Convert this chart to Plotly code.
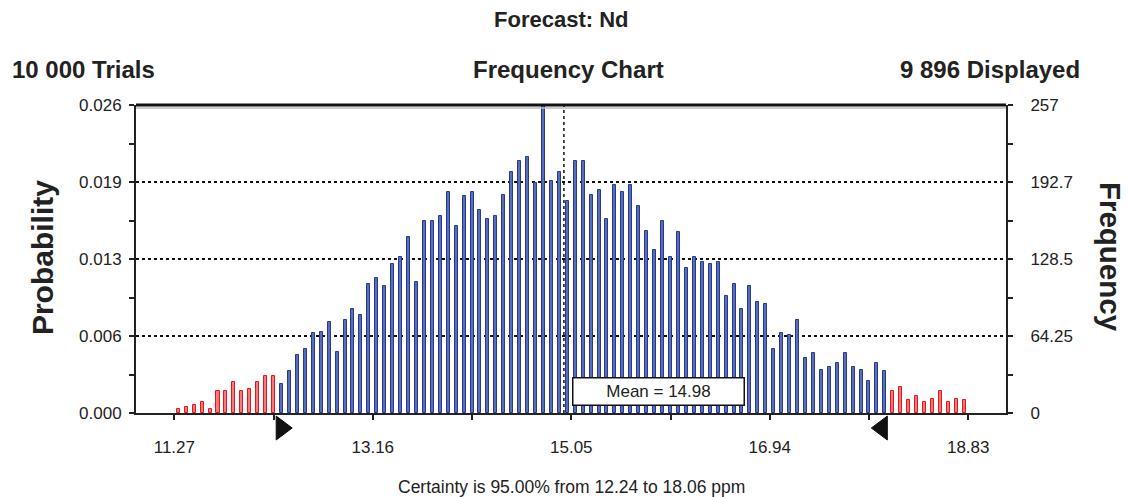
import plotly.graph_objects as go

# histogram of the forecast (counts per bin, 100 bins from 11.27 to 18.83)
bin_lo = 11.27
bin_hi = 18.83
counts = [
    3, 5, 7, 9, 3, 18, 18, 26, 18, 20, 26, 31, 31,
    24, 35, 48, 53, 67, 68, 76, 51, 78, 87, 82,
    108, 113, 106, 124, 130, 147, 109, 160, 160, 164, 184, 156, 181, 184, 169,
    162, 164, 182, 201, 210, 214, 192, 257, 194, 201, 177,
    210, 210, 182, 186, 162, 190, 184, 190, 173, 152, 136, 160, 130, 151, 121,
    130, 126, 124, 126, 98, 108, 87, 106, 93, 91, 53, 67,
    65, 78, 46, 50, 36, 38, 42, 50, 38, 36, 27, 42, 35,
    18, 22, 11, 14, 9, 12, 18, 9, 12, 11,
]
mean_val = 14.98
cert_lo = 12.24
cert_hi = 18.06
freq_max = 257

x_ticks = [11.27, 13.16, 15.05, 16.94, 18.83]
prob_ticks = ["0.000", "0.006", "0.013", "0.019", "0.026"]
freq_ticks = ["0", "64.25", "128.5", "192.7", "257"]

n = len(counts)
bw = (bin_hi - bin_lo) / n
centers = [bin_lo + (i + 0.5) * bw for i in range(n)]
inside = [cert_lo <= c <= cert_hi for c in centers]
fills = ["#5a6dbb" if ok else "#f47a7a" for ok in inside]
edges = ["#27398c" if ok else "#e3161d" for ok in inside]

ytick_vals = [freq_max * k / 4 for k in range(5)]

fig = go.Figure()
fig.add_trace(go.Bar(
    x=centers, y=counts, width=bw * 0.38,
    marker=dict(color=fills, line=dict(color=edges, width=1)),
    showlegend=False, hoverinfo="x+y",
))
# invisible trace to carry the right-hand frequency axis
fig.add_trace(go.Scatter(x=[centers[0]], y=[0], yaxis="y2", mode="markers",
                         marker=dict(opacity=0), showlegend=False, hoverinfo="skip"))

font = "Liberation Sans, Arial, sans-serif"
fig.update_layout(
    width=1128, height=497,
    margin=dict(l=136, r=122, t=105, b=84),
    plot_bgcolor="white", paper_bgcolor="white",
    font=dict(family=font, color="#222222", size=17),
    bargap=0,
    xaxis=dict(
        range=[10.905, 19.19], tickvals=x_ticks, ticktext=[f"{v:.2f}" for v in x_ticks],
        ticks="outside", ticklen=5, tickwidth=2, tickcolor="#222",
        showline=True, linecolor="#222", linewidth=2, showgrid=False, zeroline=False,
        ticklabelstandoff=13,
        minor=dict(tick0=x_ticks[0], dtick=(x_ticks[1] - x_ticks[0]) / 2,
                   ticks="outside", ticklen=5, tickwidth=2, tickcolor="#222", showgrid=False),
    ),
    yaxis=dict(
        range=[0, freq_max], tickvals=ytick_vals, ticktext=prob_ticks,
        ticks="outside", ticklen=5, tickwidth=2, tickcolor="#222",
        showline=True, linecolor="#222", linewidth=2,
        showgrid=True, gridcolor="#111", griddash="dot", gridwidth=1.5, zeroline=False,
        ticklabelstandoff=4,
        minor=dict(tick0=0, dtick=freq_max / 8, ticks="outside", ticklen=5,
                   tickwidth=2, tickcolor="#222", showgrid=False),
    ),
    yaxis2=dict(
        range=[0, freq_max], overlaying="y", side="right",
        tickvals=ytick_vals, ticktext=freq_ticks,
        ticks="outside", ticklen=5, tickwidth=2, tickcolor="#222",
        showline=True, linecolor="#222", linewidth=2, showgrid=False, zeroline=False,
        ticklabelstandoff=14,
        minor=dict(tick0=0, dtick=freq_max / 8, ticks="outside", ticklen=5,
                   tickwidth=2, tickcolor="#222", showgrid=False),
    ),
)

# top frame line with its grey shadow underneath
fig.add_shape(type="line", xref="paper", yref="paper", x0=0, x1=1, y0=-3, y1=-3,
              ysizemode="pixel", yanchor=1,
              line=dict(color="#bbbbbb", width=1.5))
fig.add_shape(type="line", xref="paper", yref="paper", x0=0, x1=1, y0=1, y1=1,
              line=dict(color="#111", width=3))
# mean line
fig.add_shape(type="line", xref="x", yref="paper", x0=mean_val, x1=mean_val, y0=0, y1=1,
              line=dict(color="#111", width=1.5, dash="dot"))
# certainty grabbers, hung just below the x axis
fig.add_shape(type="path", xref="x", yref="paper", xsizemode="pixel", ysizemode="pixel",
              xanchor=cert_lo, yanchor=0, path="M 0 -3 L 0 -27 L 16 -15 Z",
              fillcolor="#111", line=dict(color="#111", width=1))
fig.add_shape(type="path", xref="x", yref="paper", xsizemode="pixel", ysizemode="pixel",
              xanchor=cert_hi, yanchor=0, path="M 0 -3 L 0 -27 L -16 -15 Z",
              fillcolor="#111", line=dict(color="#111", width=1))

# mean label box
fig.add_annotation(x=mean_val, y=0, xref="x", yref="y", xanchor="left", yanchor="bottom",
                   xshift=8, yshift=7, text=f"Mean = {mean_val:.2f}", showarrow=False,
                   width=168, height=24, bgcolor="white", bordercolor="#111", borderwidth=1.5,
                   font=dict(size=17, color="#222"))

fig.add_annotation(x=0.4885, y=1.276, xref="paper", yref="paper", yanchor="middle",
                   text="<b>Forecast: Nd</b>",
                   showarrow=False, font=dict(family=font, color="#222", size=22))
row = dict(family=font, color="#222", size=24)
fig.add_annotation(x=-0.1448, y=1.114, xref="paper", yref="paper", xanchor="left",
                   yanchor="middle", text="<b>10 000 Trials</b>", showarrow=False, font=row)
fig.add_annotation(x=0.4977, y=1.114, xref="paper", yref="paper", yanchor="middle",
                   text="<b>Frequency Chart</b>", showarrow=False, font=row)
fig.add_annotation(x=1.0874, y=1.114, xref="paper", yref="paper", xanchor="right",
                   yanchor="middle", text="<b>9 896 Displayed</b>", showarrow=False, font=row)
fig.add_annotation(x=-0.108, y=0.503, xref="paper", yref="paper", textangle=-90,
                   xanchor="center", yanchor="middle",
                   text="<b>Probability</b>", showarrow=False, font=dict(family=font, color="#222", size=30))
fig.add_annotation(x=1.1195, y=0.507, xref="paper", yref="paper", textangle=90,
                   xanchor="center", yanchor="middle",
                   text="<b>Frequency</b>", showarrow=False, font=dict(family=font, color="#222", size=29.5))
fig.add_annotation(x=0.5, y=-0.240, xref="paper", yref="paper", yanchor="middle",
                   text=f"Certainty is 95.00% from {cert_lo:.2f} to {cert_hi:.2f} ppm",
                   showarrow=False, font=dict(family=font, color="#222", size=17.5))

fig.write_html("out.html", config={"displayModeBar": False},
               post_script="document.body.style.margin='0';")
